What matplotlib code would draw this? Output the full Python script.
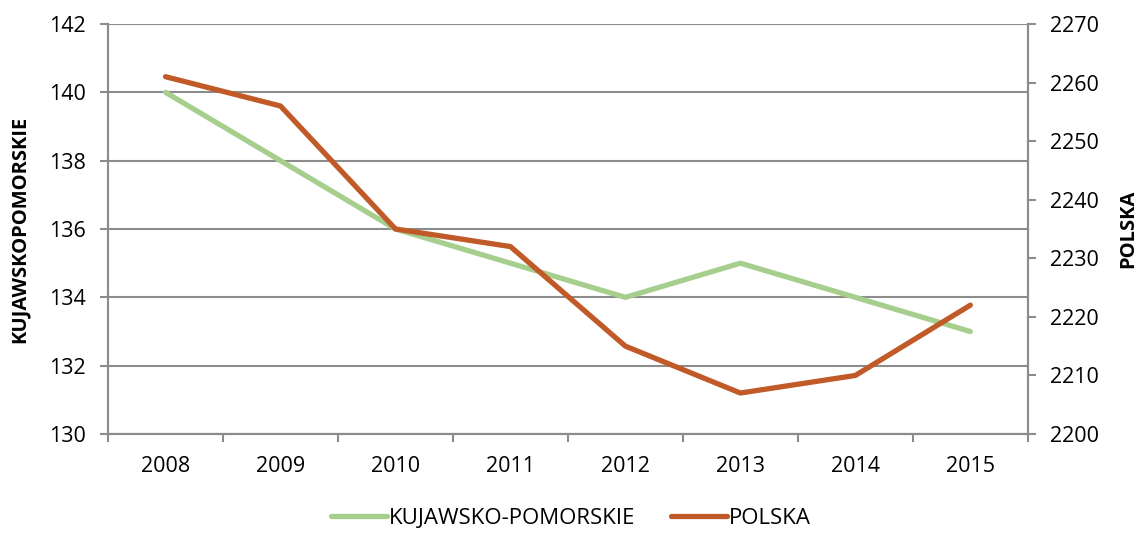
import matplotlib
matplotlib.use("Agg")
import matplotlib.pyplot as plt
from matplotlib.ticker import MultipleLocator, FixedLocator

plt.rcParams["font.family"] = ["Open Sans", "DejaVu Sans"]

years = ["2008", "2009", "2010", "2011", "2012", "2013", "2014", "2015"]
kujawsko = [140, 138, 136, 135, 134, 135, 134, 133]
polska = [2261, 2256, 2235, 2232, 2215, 2207, 2210, 2222]

GREEN = "#a6ce8d"
ORANGE = "#c05a28"
GRID = "#8c8c8c"

fig = plt.figure(figsize=(11.42, 5.33), dpi=100)
ax = fig.add_axes([0.0946, 0.1857, 0.8054, 0.7693])
ax2 = ax.twinx()

x = list(range(len(years)))
l1, = ax.plot(x, kujawsko, color=GREEN, lw=3.8, solid_capstyle="round", label="KUJAWSKO-POMORSKIE")
l2, = ax2.plot(x, polska, color=ORANGE, lw=3.8, solid_capstyle="round", label="POLSKA")

ax.set_xlim(-0.5, len(years) - 0.5)
ax.set_ylim(130, 142)
ax.yaxis.set_major_locator(MultipleLocator(2))
ax2.set_ylim(2200, 2270)
ax2.yaxis.set_major_locator(MultipleLocator(10))

ax.set_xticks(x)
ax.set_xticklabels(years)
ax.xaxis.set_minor_locator(FixedLocator([i - 0.5 for i in range(len(years) + 1)]))
ax.tick_params(axis="x", which="major", length=0, pad=16, labelsize=15.5)
ax.tick_params(axis="x", which="minor", length=6, color=GRID, width=1.5)
ax.tick_params(axis="y", length=6, color=GRID, width=1.5, labelsize=15.5, pad=10)
ax2.tick_params(axis="y", length=6, color=GRID, width=1.5, labelsize=15.5, pad=10)

ax.grid(axis="y", color=GRID, lw=1.5)
ax.set_axisbelow(True)
for a in (ax, ax2):
    a.spines["top"].set_visible(False)
    for s in ("left", "right", "bottom"):
        a.spines[s].set_color(GRID)
        a.spines[s].set_linewidth(1.5)

ax.set_ylabel("KUJAWSKOPOMORSKIE", fontsize=14.5, fontweight="bold", labelpad=14)
ax2.set_ylabel("POLSKA", fontsize=14.5, fontweight="bold", labelpad=14)

fig.legend(handles=[l1, l2], loc="lower center", bbox_to_anchor=(0.5, -0.03), ncol=2,
           frameon=False, fontsize=16, handlelength=2.5, handletextpad=0.1, columnspacing=1.6)

fig.savefig("out.png", dpi=100)
